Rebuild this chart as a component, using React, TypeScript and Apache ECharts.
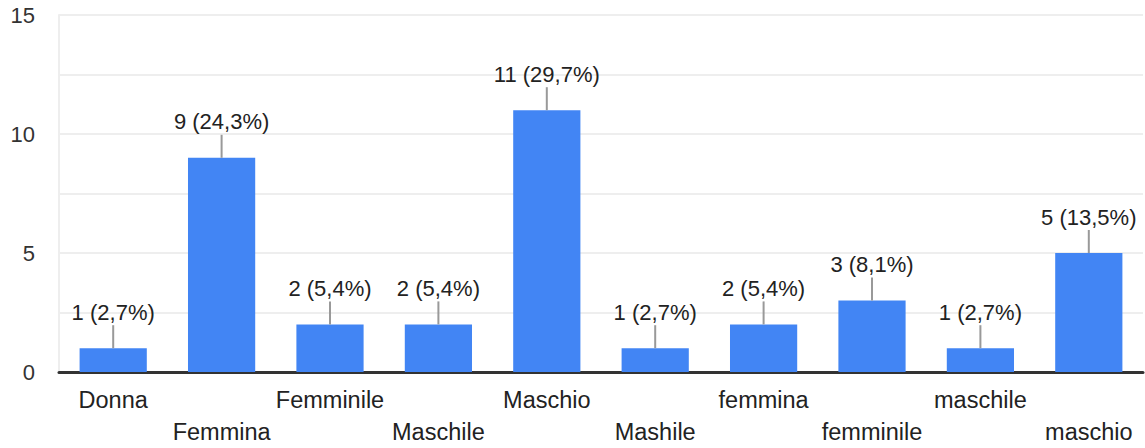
import React, { useEffect, useRef } from "react";
import * as echarts from "echarts";

const categories = ["Donna", "Femmina", "Femminile", "Maschile", "Maschio", "Mashile", "femmina", "femminile", "maschile", "maschio"];
const values = [1, 9, 2, 2, 11, 1, 2, 3, 1, 5];
const percents = ["2,7%", "24,3%", "5,4%", "5,4%", "29,7%", "2,7%", "5,4%", "8,1%", "2,7%", "13,5%"];
const yTicks = [0, 5, 10, 15];

const FONT = "'Liberation Sans', Arial, sans-serif";

export default function App() {
  const ref = useRef<HTMLDivElement>(null);
  useEffect(() => {
    document.body.style.margin = "0";
    const chart = echarts.init(ref.current!, null, { renderer: "svg" });
    chart.setOption({
      animation: false,
      textStyle: { fontFamily: FONT },
      grid: { left: 59, right: 2, top: 15, bottom: 74, containLabel: false },
      xAxis: {
        type: "category",
        data: categories,
        axisTick: { show: false },
        axisLine: { show: true, lineStyle: { color: "#333333", width: 3 } },
        axisLabel: {
          interval: 0,
          margin: 12,
          fontSize: 23.5,
          color: "#222222",
          lineHeight: 32,
          fontFamily: FONT,
          formatter: (v: string, i: number) => (i % 2 === 1 ? "\n" + v : v),
        },
        splitLine: { show: false },
      },
      yAxis: {
        type: "value",
        min: 0,
        max: 15,
        interval: 2.5,
        axisLine: { show: true, lineStyle: { color: "#eeeeee", width: 2 } },
        axisTick: { show: false },
        axisLabel: {
          margin: 24,
          fontSize: 22,
          color: "#333333",
          fontFamily: FONT,
          formatter: (v: number) => (yTicks.includes(v) ? String(v) : ""),
        },
        splitLine: { show: true, lineStyle: { color: "#eeeeee", width: 2 } },
      },
      series: [
        {
          type: "bar",
          data: values,
          barWidth: "62%",
          itemStyle: { color: "#4285F4" },
          z: 2,
        },
        {
          type: "custom",
          data: values.map((v, i) => [i, v]),
          z: 5,
          renderItem: (params: any, api: any) => {
            const i = api.value(0);
            const v = api.value(1);
            const p = api.coord([i, v]);
            return {
              type: "group",
              children: [
                {
                  type: "line",
                  shape: { x1: p[0], y1: p[1], x2: p[0], y2: p[1] - 23 },
                  style: { stroke: "#999999", lineWidth: 2 },
                },
                {
                  type: "text",
                  x: p[0],
                  y: p[1] - 25,
                  style: {
                    text: `${v} (${percents[params.dataIndex]})`,
                    textAlign: "center",
                    textVerticalAlign: "bottom",
                    fontSize: 22,
                    fontFamily: FONT,
                    fill: "#222222",
                  },
                },
              ],
            };
          },
        },
      ],
    });
    return () => chart.dispose();
  }, []);
  return <div ref={ref} style={{ width: 1145, height: 448 }} />;
}
